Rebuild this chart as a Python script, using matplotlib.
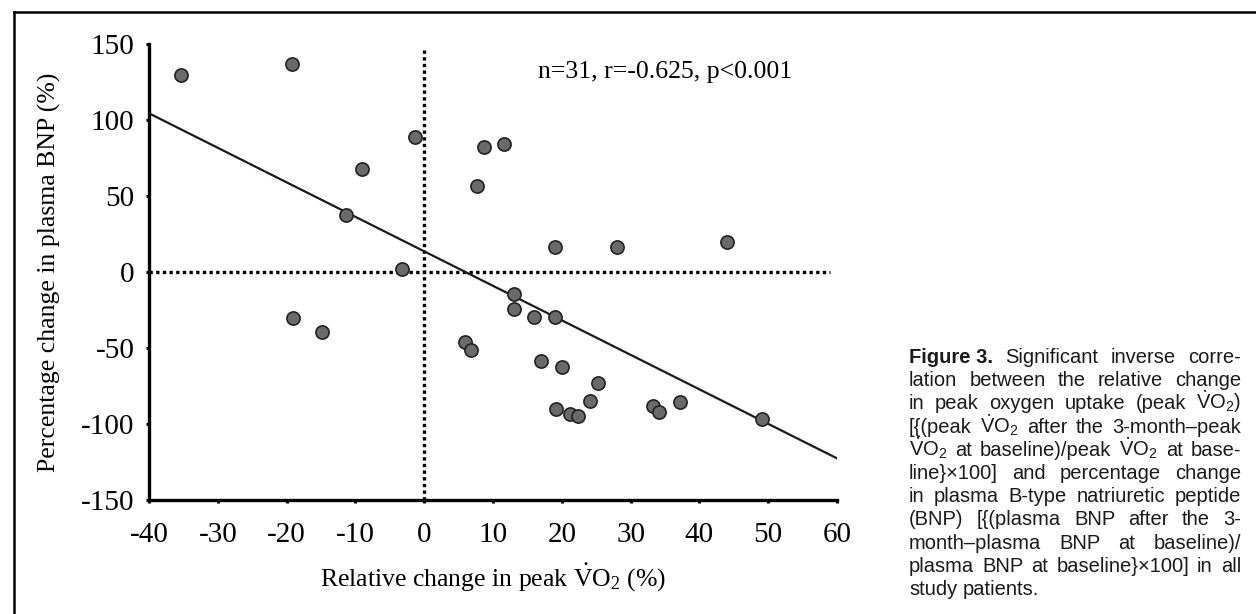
import matplotlib
matplotlib.use("Agg")
import matplotlib.pyplot as plt
from matplotlib.lines import Line2D

# Datos
vo2_change = [-35.3, -19.2, -1.4, -9.1, -11.3, -3.2, -19.0, -14.9,
              8.7, 11.6, 7.7, 19.0, 28.0, 44.0, 13.0, 13.0, 15.9, 19.0,
              5.9, 6.8, 17.0, 20.0, 25.2, 24.1, 19.1, 21.2, 22.3, 33.2,
              34.1, 37.2, 49.1]
bnp_change = [129.6, 136.6, 88.6, 67.8, 37.5, 1.8, -30.0, -39.7,
              82.2, 84.4, 56.6, 16.7, 16.7, 19.7, -14.7, -24.1, -29.8, -29.4,
              -45.8, -51.3, -58.3, -62.5, -73.2, -84.6, -90.3, -93.6, -94.5, -88.2,
              -92.3, -85.5, -96.9]

# Recta de regresión (extremos leídos)
fit_x = [-40, 60]
fit_y = [104.4, -122.6]

x_ticks = [-40, -30, -20, -10, 0, 10, 20, 30, 40, 50, 60]
y_ticks = [-150, -100, -50, 0, 50, 100, 150]

stats_text = "n=31, r=-0.625, p<0.001"

VO2 = r"$\dot{\mathsf{V}}\mathsf{O}_{\mathsf{2}}$"
caption_lines = [
    ["Figure 3.", "Significant", "inverse", "corre-"],
    ["lation", "between", "the", "relative", "change"],
    ["in", "peak", "oxygen", "uptake", "(peak", VO2 + ")"],
    ["[{(peak", VO2, "after", "the", "3-month\u2013peak"],
    [VO2, "at", "baseline)/peak", VO2, "at", "base-"],
    ["line}\u00d7100]", "and", "percentage", "change"],
    ["in", "plasma", "B-type", "natriuretic", "peptide"],
    ["(BNP)", "[{(plasma", "BNP", "after", "the", "3-"],
    ["month\u2013plasma", "BNP", "at", "baseline)/"],
    ["plasma", "BNP", "at", "baseline}\u00d7100]", "in", "all"],
    ["study", "patients."],
]

plt.rcParams["font.family"] = ["Liberation Serif", "DejaVu Serif"]
plt.rcParams["mathtext.fontset"] = "custom"
plt.rcParams["mathtext.rm"] = "Liberation Serif"
plt.rcParams["mathtext.it"] = "Liberation Serif:italic"
plt.rcParams["mathtext.sf"] = "Liberation Sans"
plt.rcParams["axes.unicode_minus"] = False

W, H = 1256, 614
fig = plt.figure(figsize=(W / 100, H / 100), dpi=100)
ax = fig.add_axes([149 / W, 1 - 500 / H, 688 / W, 456 / H])

# Líneas punteadas de referencia
ax.plot([-40, 59], [0, 0], color="black", lw=2.4, linestyle=(0, (1, 1)),
        dash_capstyle="butt", zorder=2)
ax.plot([0, 0], [-150, 148], color="black", lw=2.4, linestyle=(0, (1, 1)),
        dash_capstyle="butt", zorder=2)

# Recta de regresión
ax.plot(fit_x, fit_y, color="#1a1a1a", lw=1.6, zorder=3)

# Pacientes
ax.scatter(vo2_change, bnp_change, s=90, facecolor="#6a6a6a",
           edgecolor="#222222", linewidth=1.2, zorder=4)

ax.set_xlim(-40, 60)
ax.set_ylim(-150, 150)
ax.set_xticks(x_ticks)
ax.set_yticks(y_ticks)
ax.set_xticklabels([str(v) for v in x_ticks])
ax.set_yticklabels([str(v) for v in y_ticks])
ax.tick_params(direction="out", length=2.5, width=2.2, labelsize=21)
ax.tick_params(axis="x", pad=13)
ax.tick_params(axis="y", pad=8)

for side in ["top", "right"]:
    ax.spines[side].set_visible(False)
for side in ["left", "bottom"]:
    ax.spines[side].set_linewidth(2.4)

ax.set_xlabel(r"Relative change in peak $\dot{\mathrm{V}}\mathrm{O}_2$ (%)",
              fontsize=18.5, labelpad=10)
ax.set_ylabel("Percentage change in plasma BNP (%)", fontsize=18.5, labelpad=14)

ax.text(16.5, 131.6, stats_text, fontsize=18.5, ha="left", va="center")

# Marco exterior (solo arriba e izquierda)
fig.add_artist(Line2D([14 / W, 1], [1 - 12 / H, 1 - 12 / H],
                      transform=fig.transFigure, color="black", lw=1.8))
fig.add_artist(Line2D([14 / W, 14 / W], [0, 1 - 12 / H],
                      transform=fig.transFigure, color="black", lw=1.8))

# Leyenda de la figura, justificada
renderer = fig.canvas.get_renderer()
x_left, x_right = 909, 1241
y_first, line_gap = 363, 23.2
cap_size = 14.5
sans = ["Liberation Sans", "DejaVu Sans"]
space_w = 5.0

for i, words in enumerate(caption_lines):
    y_px = y_first + i * line_gap
    items = []
    for j, w in enumerate(words):
        bold = (i == 0 and j == 0)
        t = fig.text(0, 1 - y_px / H, w, fontsize=cap_size, family=sans,
                     fontweight="bold" if bold else "normal",
                     color="#1a1a1a", ha="left", va="baseline")
        width = t.get_window_extent(renderer).width
        items.append((t, width))
    total = sum(wd for _, wd in items)
    last = (i == len(caption_lines) - 1)
    if last or len(items) == 1:
        gap = space_w
    else:
        gap = (x_right - x_left - total) / (len(items) - 1)
    x = x_left
    for t, wd in items:
        t.set_x(x / W)
        x += wd + gap

fig.savefig("out.png", dpi=100)
